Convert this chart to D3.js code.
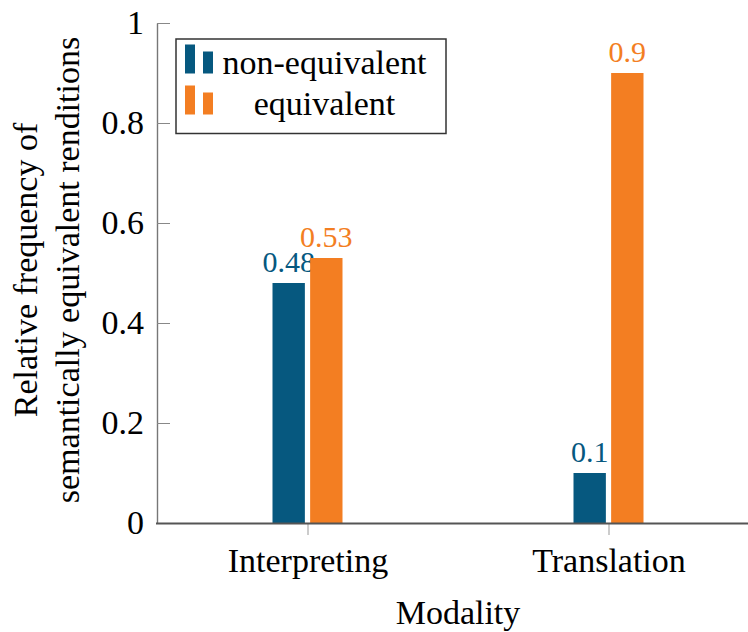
<!DOCTYPE html>
<html>
<head>
<meta charset="utf-8">
<script src="https://cdn.jsdelivr.net/npm/d3@7"></script>
<style>
  html, body { margin: 0; padding: 0; background: #fff; }
  svg { display: block; }
</style>
</head>
<body>
<script>
const categories = ["Interpreting", "Translation"];
const seriesNames = ["non-equivalent", "equivalent"];
const nonEquivalent = [0.48, 0.1];
const equivalent = [0.53, 0.9];
const yTicks = [0, 0.2, 0.4, 0.6, 0.8, 1];
const yTickLabels = ["0", "0.2", "0.4", "0.6", "0.8", "1"];
const xTitle = "Modality";
const yTitleLines = ["Relative frequency of", "semantically equivalent renditions"];
const colors = ["#06587f", "#f37e22"];

const FONT = '"Liberation Serif", serif';
const W = 748, H = 632;
const mLeft = 157, mRight = 759, mTop = 23, mBottom = 523;

const svg = d3.select("body").append("svg").attr("width", W).attr("height", H)
  .attr("font-family", FONT);

const x = d3.scalePoint().domain(categories).range([mLeft, mRight]).padding(0.5);
const xs = d3.scaleBand().domain(seriesNames).range([-35, 35]).paddingInner(0.14).paddingOuter(0);
const y = d3.scaleLinear().domain([0, 1]).range([mBottom, mTop]);

const seriesData = [nonEquivalent, equivalent];

// bars
seriesNames.forEach((s, si) => {
  const g = svg.append("g");
  g.selectAll("rect").data(categories).join("rect")
    .attr("x", c => x(c) + xs(s))
    .attr("width", xs.bandwidth())
    .attr("y", (c, i) => y(seriesData[si][i]))
    .attr("height", (c, i) => y(0) - y(seriesData[si][i]))
    .attr("fill", colors[si]);
  g.selectAll("text").data(categories).join("text")
    .attr("x", c => x(c) + xs(s) + xs.bandwidth() / 2)
    .attr("y", (c, i) => y(seriesData[si][i]) - 11.5)
    .attr("text-anchor", "middle")
    .attr("font-size", 30)
    .attr("fill", colors[si])
    .text((c, i) => String(seriesData[si][i]));
});

// y axis
const yAxis = d3.axisLeft(y).tickValues(yTicks)
  .tickFormat((d, i) => yTickLabels[i])
  .tickSizeInner(-13).tickSizeOuter(0).tickPadding(13);
const ga = svg.append("g").attr("transform", `translate(${mLeft},0)`).call(yAxis);
ga.select(".domain").attr("stroke", "#777").attr("stroke-width", 1.4);
ga.selectAll(".tick line").attr("stroke", "#888").attr("stroke-width", 1);
ga.selectAll(".tick text").attr("font-size", 34).attr("fill", "#000");

// x axis
const xAxis = d3.axisBottom(x).tickSizeInner(12).tickSizeOuter(0).tickPadding(13);
const gx = svg.append("g").attr("transform", `translate(0,${mBottom})`).call(xAxis);
gx.select(".domain").remove();
gx.selectAll(".tick line").attr("stroke", "#999").attr("stroke-width", 1);
gx.selectAll(".tick text").attr("font-size", 34).attr("fill", "#000");

// bottom axis line
svg.append("line")
  .attr("x1", mLeft - 1).attr("x2", mRight + 1)
  .attr("y1", y(0) + 0.5).attr("y2", y(0) + 0.5)
  .attr("stroke", "#555").attr("stroke-width", 2);

// titles
svg.append("text")
  .attr("x", (mLeft + mRight) / 2).attr("y", 624)
  .attr("text-anchor", "middle").attr("font-size", 34)
  .text(xTitle);

const yTitleX = [37, 79];
yTitleLines.forEach((t, i) => {
  svg.append("text")
    .attr("transform", `translate(${yTitleX[i]},${(mTop + mBottom) / 2 - 3}) rotate(-90)`)
    .attr("text-anchor", "middle").attr("font-size", 34)
    .text(t);
});

// legend
const lg = svg.append("g").attr("transform", "translate(176,39)");
lg.append("rect").attr("x", 0).attr("y", 0).attr("width", 270).attr("height", 94.5)
  .attr("fill", "#fff").attr("stroke", "#333").attr("stroke-width", 1.5);
const rowBase = [34.5, 75.5];
seriesNames.forEach((s, i) => {
  const row = lg.append("g").attr("transform", `translate(0,${rowBase[i]})`);
  row.append("rect").attr("x", 9).attr("y", -29).attr("width", 10).attr("height", 29).attr("fill", colors[i]);
  row.append("rect").attr("x", 27).attr("y", -22).attr("width", 10).attr("height", 22).attr("fill", colors[i]);
  row.append("text").attr("x", 148.5).attr("y", 0)
    .attr("text-anchor", "middle").attr("font-size", 34).text(s);
});

svg.selectAll("text").attr("font-family", FONT).style("font-family", FONT);
</script>
</body>
</html>
